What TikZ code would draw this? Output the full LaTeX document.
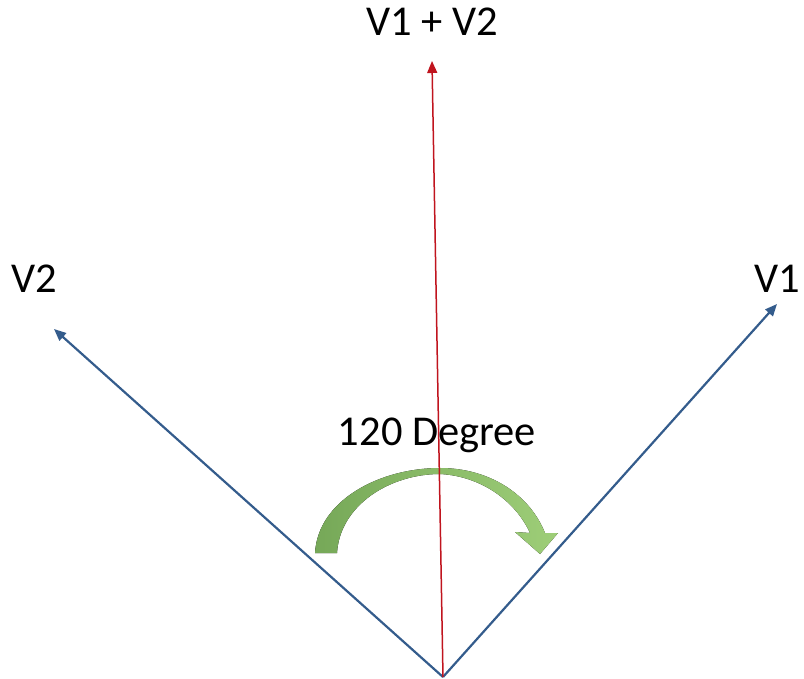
\documentclass[tikz,border=0pt]{standalone}
\usepackage{fontspec}
\setmainfont{Carlito}
\usetikzlibrary{arrows.meta}
\definecolor{vecblue}{RGB}{52,92,140}
\definecolor{vecred}{RGB}{192,20,30}
\definecolor{arcdark}{RGB}{118,168,88}
\definecolor{arclight}{RGB}{158,206,120}

\begin{document}
\begin{tikzpicture}[
  x=1pt, y=-1pt, >={Triangle[length=12pt, width=10pt]},
  vec/.style={draw=vecblue, line width=2.2pt, ->},
  sumvec/.style={draw=vecred, line width=1.5pt, ->},
  lbl/.style={font=\fontsize{42.5}{50}\selectfont, inner sep=0pt}
]
\useasboundingbox (0,0) rectangle (804,679);

% vectors
\coordinate (o) at (443,677);
\coordinate (v1) at (777,304);
\coordinate (v2) at (54,329);
\coordinate (sum) at (432,61);

% turning arrow (behind the sum vector)
\fill[left color=arcdark, right color=arclight]
  (315,553) -- (337,553)
  .. controls (340,505) and (390,474) .. (440,474)
  .. controls (480,476) and (515,500) .. (530,533)
  -- (515,532) -- (540,554) -- (558,533) -- (545,533)
  .. controls (530,495) and (490,468) .. (440,468)
  .. controls (380,468) and (318,500) .. (315,553) -- cycle;

\draw[vec] (o) -- (v1);
\draw[vec] (o) -- (v2);
\draw[sumvec] (o) -- (sum);

% labels
\node[lbl] (lsum) at (432,22) {V1 + V2};
\node[lbl] (lv2) at (34,279) {V2};
\node[lbl] (lv1) at (777,279) {V1};
\node[lbl] (lang) at (437,435) {120 Degree};
\end{tikzpicture}
\end{document}
